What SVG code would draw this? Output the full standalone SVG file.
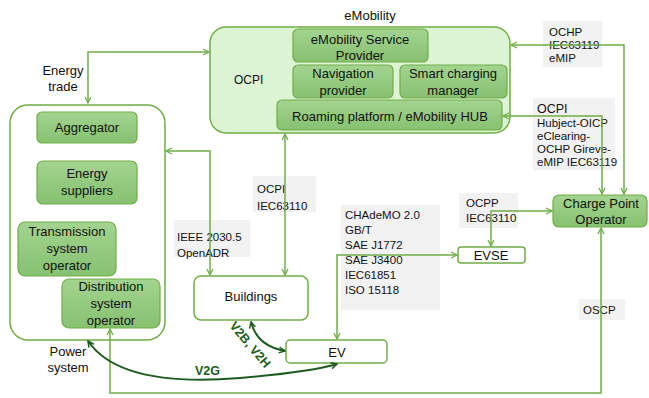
<svg xmlns="http://www.w3.org/2000/svg" width="649" height="398" viewBox="0 0 649 398">
<style>
text{font-family:"Liberation Sans",Arial,sans-serif;fill:#111}
.n{font-size:13px;text-anchor:middle}
.p{font-size:11.5px}
.box{fill:url(#g);stroke:#70ad47;stroke-width:1.2}
.w{fill:#fff;stroke:#70ad47;stroke-width:1.5}
.lab{fill:#f2f2f2}
.c{fill:none;stroke:#70ad47;stroke-width:1.5}
.d{fill:none;stroke:#1e5c20;stroke-width:2}
.dt{font-size:12.5px;font-weight:bold;fill:#1e5c20}
</style>
<defs>
<linearGradient id="g" x1="0" y1="0" x2="0" y2="1"><stop offset="0" stop-color="#a3d490"/><stop offset="1" stop-color="#86c170"/></linearGradient>
<marker id="a" viewBox="0 0 8 8" refX="7" refY="4" markerWidth="8" markerHeight="8" markerUnits="userSpaceOnUse" orient="auto-start-reverse"><path d="M1,1 L7,4 L1,7" fill="none" stroke="#70ad47" stroke-width="1.3"/></marker>
<marker id="b" viewBox="0 0 8 8" refX="7" refY="4" markerWidth="8" markerHeight="8" markerUnits="userSpaceOnUse" orient="auto-start-reverse"><path d="M1,1 L7,4 L1,7" fill="none" stroke="#1e5c20" stroke-width="1.5"/></marker>
</defs>
<rect width="649" height="398" fill="#fff"/>

<g id="emobility">
<rect x="210" y="27" width="300" height="106" rx="16" fill="#dcf3d4" stroke="#70ad47" stroke-width="1.5"/>
<text class="n" x="370" y="20">eMobility</text>
<text x="234" y="84" style="font-size:12px">OCPI</text>
</g>
<g id="emsp"><rect class="box" x="293" y="29" width="135" height="33" rx="5"/><text class="n" x="360" y="44">eMobility Service</text><text class="n" x="360" y="60">Provider</text></g>
<g id="nav"><rect class="box" x="293" y="65" width="100" height="33" rx="5"/><text class="n" x="343" y="78">Navigation</text><text class="n" x="343" y="95">provider</text></g>
<g id="smart"><rect class="box" x="400" y="65" width="107" height="33" rx="5"/><text class="n" x="453" y="78">Smart charging</text><text class="n" x="453" y="95">manager</text></g>
<g id="roaming"><rect class="box" x="277" y="100" width="225" height="30" rx="5"/><text class="n" x="390" y="121">Roaming platform / eMobility HUB</text></g>

<g id="power">
<rect x="10" y="105" width="155" height="235" rx="18" fill="#fff" stroke="#70ad47" stroke-width="1.5"/>
<text class="n" x="63" y="75">Energy</text><text class="n" x="63" y="91">trade</text>
<text class="n" x="68" y="356">Power</text><text class="n" x="68" y="372">system</text>
</g>
<g id="aggregator"><rect class="box" x="37" y="112" width="100" height="31" rx="5"/><text class="n" x="87" y="132">Aggregator</text></g>
<g id="suppliers"><rect class="box" x="37" y="161" width="100" height="43" rx="6"/><text class="n" x="87" y="178">Energy</text><text class="n" x="87" y="195">suppliers</text></g>
<g id="tso"><rect class="box" x="18" y="222" width="98" height="54" rx="7"/><text class="n" x="67" y="236">Transmission</text><text class="n" x="67" y="253">system</text><text class="n" x="67" y="270">operator</text></g>
<g id="dso"><rect class="box" x="62" y="279" width="98" height="49" rx="7"/><text class="n" x="111" y="291">Distribution</text><text class="n" x="111" y="308">system</text><text class="n" x="111" y="325">operator</text></g>

<g id="buildings"><rect class="w" x="194" y="276" width="114" height="44" rx="7"/><text class="n" x="251" y="301">Buildings</text></g>
<g id="ev"><rect class="w" x="286" y="340" width="101" height="23" rx="4"/><text class="n" x="337" y="357">EV</text></g>
<g id="evse"><rect class="w" x="458" y="247" width="67" height="16" rx="3"/><text class="n" x="491" y="260">EVSE</text></g>
<g id="cpo"><rect class="box" x="553" y="195" width="94" height="32" rx="6"/><text class="n" x="601" y="208">Charge Point</text><text class="n" x="601" y="224">Operator</text></g>

<g id="labels">
<rect class="lab" x="543" y="21" width="59" height="46"/>
<text class="p" x="549" y="36">OCHP</text><text class="p" x="549" y="49">IEC63119</text><text class="p" x="549" y="62">eMIP</text>
<rect class="lab" x="533" y="98" width="82" height="72"/>
<text x="537" y="113" style="font-size:12.5px">OCPI</text>
<text class="p" x="537" y="127">Hubject-OICP</text><text class="p" x="537" y="140">eClearing-</text><text class="p" x="537" y="153">OCHP Gireve-</text><text class="p" x="537" y="166">eMIP IEC63119</text>
<rect class="lab" x="253" y="176" width="63" height="36"/>
<text class="p" x="257" y="193">OCPI</text><text class="p" x="257" y="210">IEC63110</text>
<rect class="lab" x="174" y="220" width="76" height="37"/>
<text class="p" x="177" y="241">IEEE 2030.5</text><text class="p" x="177" y="257">OpenADR</text>
<rect class="lab" x="341" y="205" width="99" height="105"/>
<text class="p" x="345" y="219">CHAdeMO 2.0</text><text class="p" x="345" y="234">GB/T</text><text class="p" x="345" y="249">SAE J1772</text><text class="p" x="345" y="264">SAE J3400</text><text class="p" x="345" y="279">IEC61851</text><text class="p" x="345" y="294">ISO 15118</text>
<rect class="lab" x="459" y="193" width="59" height="35"/>
<text class="p" x="466" y="207">OCPP</text><text class="p" x="466" y="222">IEC63110</text>
<rect class="lab" x="579" y="299" width="46" height="21"/>
<text class="p" x="583" y="314">OSCP</text>
</g>

<g id="connectors">
<polyline class="c" points="88,103 88,52 209,52" marker-start="url(#a)" marker-end="url(#a)"/>
<polyline class="c" points="166,151 210,151 210,275" marker-start="url(#a)" marker-end="url(#a)"/>
<line class="c" x1="285" y1="134" x2="285" y2="275" marker-start="url(#a)" marker-end="url(#a)"/>
<polyline class="c" points="511,45 624,45 624,194" marker-start="url(#a)" marker-end="url(#a)"/>
<polyline class="c" points="503,116 602,116 602,194" marker-start="url(#a)" marker-end="url(#a)"/>
<polyline class="c" points="337,339 337,255 457,255" marker-start="url(#a)" marker-end="url(#a)"/>
<polyline class="c" points="491,246 491,211 552,211" marker-start="url(#a)" marker-end="url(#a)"/>
<polyline class="c" points="601,228 601,393 110,393 110,329" marker-start="url(#a)" marker-end="url(#a)"/>
<path class="d" d="M251,322 Q257,346 285,351" marker-start="url(#b)" marker-end="url(#b)"/>
<path class="d" d="M88,341 Q120,388 240,378 Q310,372 337,364" marker-start="url(#b)" marker-end="url(#b)"/>
<text class="dt" x="0" y="0" transform="translate(229,326) rotate(50)">V2B, V2H</text>
<text class="dt" x="195" y="375">V2G</text>
</g>
</svg>
